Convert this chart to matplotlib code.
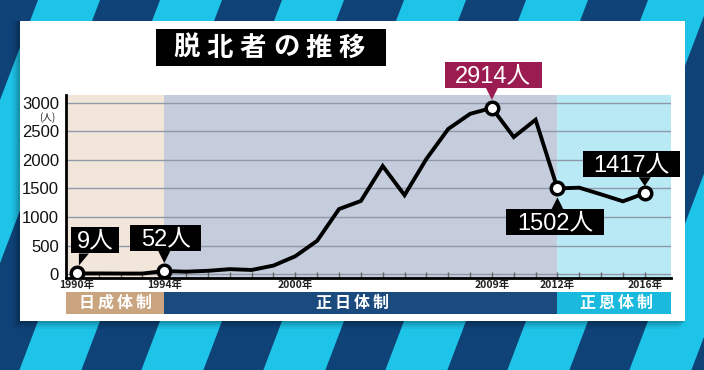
import numpy as np
import matplotlib
matplotlib.use("Agg")
import matplotlib.pyplot as plt
from matplotlib.patches import Rectangle, Polygon

plt.rcParams['font.family'] = ['Noto Sans CJK JP', 'DejaVu Sans']
latin = ['Liberation Sans', 'Noto Sans CJK JP', 'DejaVu Sans']

# data
years = list(range(1990, 2017))
defectors = [9, 10, 8, 8, 52, 41, 56, 85, 71, 148, 312, 583, 1139, 1281, 1894,
             1383, 2018, 2544, 2809, 2914, 2402, 2706, 1502, 1514, 1397, 1275, 1417]
labeled_years = [1990, 1994, 2000, 2009, 2012, 2016]
marked_years = [1990, 1994, 2009, 2012, 2016]
era_names = ['日成体制', '正日体制', '正恩体制']
era_bounds = [1994, 2012]
title = '脱北者の推移'

W, H = 704, 370
fig = plt.figure(figsize=(W / 100, H / 100), dpi=100)

# background stripes (pixel coords, y downward)
bg = fig.add_axes([0, 0, 1, 1], zorder=0)
bg.set_xlim(0, W)
bg.set_ylim(H, 0)
bg.axis('off')
bg.add_patch(Rectangle((0, 0), W, H, color='#0f4277'))
for k in range(-3, 10):
    x0 = 38 + k * 122
    s = 0.38 * H
    bg.add_patch(Polygon([(x0, 0), (x0 + 62, 0), (x0 + 62 - s, H), (x0 - s, H)],
                         color='#1ec3e8', lw=0))
# panel with soft shadow
for i, a in enumerate([0.10, 0.08, 0.06, 0.04]):
    bg.add_patch(Rectangle((20 - 2 - i * 2, 21), 665 + 2, 300 + 2 + i * 2,
                           color='black', alpha=a, lw=0))
bg.add_patch(Rectangle((20, 21), 665, 300, color='white', lw=0))
# title box
bg.add_patch(Rectangle((156, 29), 230, 37, color='black', lw=0))
for i, ch in enumerate(title):
    bg.text(187 + i * 33, 48, ch, color='white', fontsize=19, fontweight='bold',
            ha='center', va='center')

# main axes: px 66..671, y 95..278
x0p, x1p, ytop, ybot = 66, 671, 95, 278
ax = fig.add_axes([x0p / W, 1 - ybot / H, (x1p - x0p) / W, (ybot - ytop) / H], zorder=1)
ax.set_facecolor('none')
xmin, xmax = 1989.5, 2017.2
ax.set_xlim(xmin, xmax)
ax.set_ylim(-70, 3140)

edges = [xmin] + era_bounds + [xmax]
shade_cols = ['#f2e5d9', '#c5cddc', '#b9e9f5']
band_cols = ['#c9a47e', '#1b4b7e', '#19bade']
for i in range(3):
    ax.axvspan(edges[i], edges[i + 1], color=shade_cols[i], lw=0, zorder=0)

for v in range(0, 3001, 500):
    ax.axhline(v, color='#8f99aa', lw=1, zorder=1)

ax.plot(years, defectors, color='black', lw=2.8, zorder=3, solid_joinstyle='miter')
mk = [defectors[years.index(y)] for y in marked_years]
ax.plot(marked_years, mk, 'o', ms=9, mfc='white', mec='black', mew=2.5, zorder=4)

for s in ['top', 'right']:
    ax.spines[s].set_visible(False)
for s in ['left', 'bottom']:
    ax.spines[s].set_linewidth(2)
    ax.spines[s].set_color('black')

ax.set_yticks(range(0, 3001, 500))
ax.set_yticklabels([str(v) for v in range(0, 3001, 500)], fontsize=12,
                   family=latin, color='#111111')
ax.tick_params(axis='y', length=0, pad=5)
ax.set_xticks(years)
ax.set_xticklabels([f'{y}年' if y in labeled_years else '' for y in years],
                   fontsize=7.5, fontweight='bold', color='#222222')
ax.tick_params(axis='x', direction='in', length=4, width=1, color='#666666', pad=1)

# (人) unit label
bg.text(47, 118, '(人)', fontsize=7, ha='center', va='center', color='#222222')

# era band
band = fig.add_axes([x0p / W, 1 - 314 / H, (x1p - x0p) / W, 22 / H], zorder=1)
band.set_xlim(xmin, xmax)
band.set_ylim(0, 1)
band.axis('off')
for i in range(3):
    band.axvspan(edges[i], edges[i + 1], color=band_cols[i], lw=0)
label_centers_px = [115, 352, 616]
fig.canvas.draw()
over = fig.add_axes([0, 0, 1, 1], zorder=5)
over.set_xlim(0, W)
over.set_ylim(H, 0)
over.axis('off')
for name, cx in zip(era_names, label_centers_px):
    for j, ch in enumerate(name):
        over.text(cx + (j - 1.5) * 19, 303, ch, color='white', fontsize=11.5,
                  fontweight='bold', ha='center', va='center')

# callouts: (year, box left, right, top, bottom, triangle, color) offsets in px
callouts = [
    (1990, -6, 42, -46, -20, [(2, -20), (12, -20), (2, -8)], 'black'),
    (1994, -34, 37, -46, -20, [(-6, -20), (6, -20), (0, -8)], 'black'),
    (2009, -47, 50, -46, -20, [(-6, -20), (6, -20), (0, -8)], '#9b1c50'),
    (2012, -51, 47, 21, 47, [(-6, 21), (6, 21), (0, 9)], 'black'),
    (2016, -62, 35, -42, -16, [(-6, -16), (6, -16), (0, -7)], 'black'),
]
for yr, l, r, t, b, tri, col in callouts:
    val = defectors[years.index(yr)]
    dx, dy = ax.transData.transform((yr, val))
    px, py = dx, H - dy
    over.add_patch(Rectangle((px + l, py + t), r - l, b - t, color=col, lw=0))
    over.add_patch(Polygon([(px + a, py + c) for a, c in tri], color=col, lw=0))
    over.text(px + (l + r) / 2, py + (t + b) / 2 + 1, f'{val}人', color='white',
              fontsize=17, family=latin, ha='center', va='center')

fig.savefig('out.png', dpi=100)
